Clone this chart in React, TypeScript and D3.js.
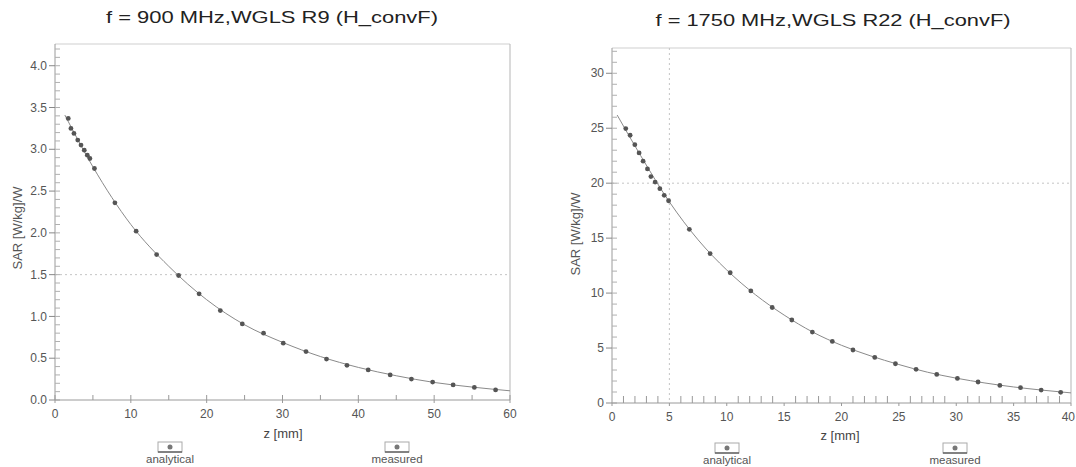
import React from "react";
import * as d3 from "d3";

// ---------- data ----------
const LEFT_TITLE = "f = 900 MHz,WGLS R9 (H_convF)";
const RIGHT_TITLE = "f = 1750 MHz,WGLS R22 (H_convF)";
const Y_LABEL = "SAR [W/kg]/W";
const X_LABEL = "z [mm]";
const LEGEND_LABELS = ["analytical", "measured"];

const LEFT_X_TICKS = [0, 10, 20, 30, 40, 50, 60];
const LEFT_Y_TICKS = [0.0, 0.5, 1.0, 1.5, 2.0, 2.5, 3.0, 3.5, 4.0];
const RIGHT_X_TICKS = [0, 5, 10, 15, 20, 25, 30, 35, 40];
const RIGHT_Y_TICKS = [0, 5, 10, 15, 20, 25, 30];

const LEFT_Z_MEAS = [1.75, 2.1, 2.5, 3.0, 3.43, 3.86, 4.26, 4.6, 5.2, 7.9, 10.7, 13.4, 16.3, 19.0, 21.8, 24.7, 27.5, 30.1, 33.1, 35.8, 38.5, 41.3, 44.2, 47.0, 49.8, 52.5, 55.3, 58.1];
const LEFT_SAR_MEAS = [3.37, 3.25, 3.19, 3.11, 3.05, 2.99, 2.93, 2.89, 2.77, 2.36, 2.02, 1.74, 1.49, 1.27, 1.07, 0.91, 0.8, 0.68, 0.58, 0.49, 0.415, 0.36, 0.3, 0.25, 0.215, 0.18, 0.15, 0.12];
const LEFT_Z_ANALYTIC = [1.3, 5, 10, 15, 20, 25, 30, 35, 40, 45, 50, 55, 60];
const LEFT_SAR_ANALYTIC = [3.41, 2.79, 2.1, 1.6, 1.2, 0.9, 0.69, 0.52, 0.39, 0.29, 0.21, 0.155, 0.11];

const RIGHT_Z_MEAS = [1.2, 1.58, 1.99, 2.36, 2.71, 3.09, 3.39, 3.76, 4.17, 4.55, 4.93, 6.74, 8.55, 10.3, 12.1, 13.96, 15.67, 17.46, 19.2, 21.0, 22.9, 24.7, 26.5, 28.3, 30.1, 31.9, 33.8, 35.6, 37.4, 39.1];
const RIGHT_SAR_MEAS = [24.97, 24.36, 23.5, 22.75, 22.0, 21.3, 20.6, 20.1, 19.5, 18.9, 18.4, 15.8, 13.6, 11.85, 10.2, 8.69, 7.55, 6.45, 5.6, 4.82, 4.15, 3.57, 3.06, 2.6, 2.24, 1.91, 1.6, 1.39, 1.18, 0.97];
const RIGHT_Z_ANALYTIC = [0.45, 2.5, 5, 7.5, 10, 12.5, 15, 17.5, 20, 22.5, 25, 27.5, 30, 32.5, 35, 37.5, 40];
const RIGHT_SAR_ANALYTIC = [26.2, 22.5, 18.3, 14.85, 12.1, 9.85, 8.0, 6.45, 5.25, 4.3, 3.5, 2.8, 2.26, 1.82, 1.46, 1.17, 0.92];

const FONT = "Liberation Sans, Arial, sans-serif";
const W = 1076;
const H = 467;

type PanelProps = {
  title: string;
  titleX: number;
  titleY: number;
  titleLen: number;
  left: number;
  right: number;
  top: number;
  bottom: number;
  xMax: number;
  yMax: number;
  xTicks: number[];
  yTicks: number[];
  yFmt: (v: number) => string;
  xMinorStep: number;
  xMinorLen: number;
  xMinorSkipMajor: boolean;
  yMinorStep: number;
  zMeas: number[];
  sMeas: number[];
  zAn: number[];
  sAn: number[];
  gridX: number[];
  gridY: number[];
  yLabelX: number;
  yLabelY: number;
  xLabelX: number;
  xLabelY: number;
  legendX: number[];
  legendY: number;
};

function Panel(p: PanelProps) {
  const x = d3.scaleLinear().domain([0, p.xMax]).range([p.left, p.right]);
  const y = d3.scaleLinear().domain([0, p.yMax]).range([p.bottom, p.top]);
  const an = p.zAn.map((z, i) => [z, p.sAn[i]] as [number, number]);
  const line = d3
    .line<[number, number]>()
    .x((d) => x(d[0]))
    .y((d) => y(d[1]))
    .curve(d3.curveMonotoneX);

  const xMinor = d3.range(0, p.xMax + 1e-9, p.xMinorStep).filter((v) => !(p.xMinorSkipMajor && Math.abs(v % 5) < 1e-6));
  const yMinor = d3.range(0, p.yMax, p.yMinorStep);

  return (
    <g>
      <text x={p.titleX} y={p.titleY} textAnchor="middle" fontFamily={FONT} fontSize={17} fill="#222" textLength={p.titleLen} lengthAdjust="spacingAndGlyphs">
        {p.title}
      </text>
      {/* frame */}
      <line x1={p.left} x2={p.right} y1={p.top} y2={p.top} stroke="#cfcfcf" />
      <line x1={p.right} x2={p.right} y1={p.top} y2={p.bottom} stroke="#b5b5b5" />
      {/* dotted grid */}
      {p.gridY.map((v) => (
        <line key={"gy" + v} x1={p.left} x2={p.right} y1={y(v)} y2={y(v)} stroke="#c4c4c4" strokeDasharray="2,3" />
      ))}
      {p.gridX.map((v) => (
        <line key={"gx" + v} x1={x(v)} x2={x(v)} y1={p.top} y2={p.bottom} stroke="#c4c4c4" strokeDasharray="2,3" />
      ))}
      {/* y axis */}
      <line x1={p.left} x2={p.left} y1={p.top} y2={p.bottom} stroke="#9a9a9a" />
      {yMinor.map((v, i) => (
        <line key={"ym" + i} x1={p.left} x2={p.left + 5} y1={y(v)} y2={y(v)} stroke="#b0b0b0" />
      ))}
      {p.yTicks.map((v) => (
        <g key={"yt" + v}>
          <line x1={p.left - 6} x2={p.left} y1={y(v)} y2={y(v)} stroke="#888" />
          <text x={p.left - 8} y={y(v)} dy="0.35em" textAnchor="end" fontFamily={FONT} fontSize={12} fill="#555">
            {p.yFmt(v)}
          </text>
        </g>
      ))}
      {/* x axis */}
      <line x1={p.left} x2={p.right} y1={p.bottom} y2={p.bottom} stroke="#9a9a9a" />
      {xMinor.map((v, i) => (
        <line key={"xm" + i} x1={x(v)} x2={x(v)} y1={p.bottom} y2={p.bottom - p.xMinorLen} stroke="#999" />
      ))}
      {p.xTicks.map((v) => {
        const px = x(v);
        const nearEdge = px + 9 > W;
        return (
          <g key={"xt" + v}>
            <line x1={px} x2={px} y1={p.bottom} y2={p.bottom + 3} stroke="#999" />
            <text x={nearEdge ? W - 1 : px} y={p.bottom + 18} textAnchor={nearEdge ? "end" : "middle"} fontFamily={FONT} fontSize={12} fill="#555">
              {v}
            </text>
          </g>
        );
      })}
      <text x={p.xLabelX} y={p.xLabelY} textAnchor="middle" fontFamily={FONT} fontSize={13} fill="#444">
        {X_LABEL}
      </text>
      <text transform={`translate(${p.yLabelX},${p.yLabelY}) rotate(-90)`} textAnchor="middle" fontFamily={FONT} fontSize={13} fill="#555">
        {Y_LABEL}
      </text>
      {/* analytical curve */}
      <path d={line(an) || ""} fill="none" stroke="#8a8a8a" strokeWidth={1} />
      {/* measured points */}
      {p.zMeas.map((z, i) => (
        <circle key={"m" + i} cx={x(z)} cy={y(p.sMeas[i])} r={2.4} fill="#555" />
      ))}
      {/* legend */}
      {LEGEND_LABELS.map((lab, i) => (
        <g key={lab}>
          <rect x={p.legendX[i] - 12} y={p.legendY - 5} width={24} height={10} fill="#fff" stroke="#aaa" />
          <line x1={p.legendX[i] - 12} x2={p.legendX[i] + 12} y1={p.legendY + 5} y2={p.legendY + 5} stroke="#555" strokeWidth={1.3} />
          <circle cx={p.legendX[i]} cy={p.legendY} r={2.5} fill="#777" />
          <text x={p.legendX[i]} y={p.legendY + 16} textAnchor="middle" fontFamily={FONT} fontSize={11.5} fill="#555">
            {lab}
          </text>
        </g>
      ))}
    </g>
  );
}

export default function App() {
  return (
    <svg width={W} height={H} style={{ position: "absolute", left: 0, top: 0, background: "#fff" }}>
      <rect width={W} height={H} fill="#fff" />
      <Panel
        title={LEFT_TITLE}
        titleX={272}
        titleY={23}
        titleLen={332}
        left={55}
        right={510}
        top={44}
        bottom={400}
        xMax={60}
        yMax={4.26}
        xTicks={LEFT_X_TICKS}
        yTicks={LEFT_Y_TICKS}
        yFmt={(v) => v.toFixed(1)}
        xMinorStep={5}
        xMinorLen={5}
        xMinorSkipMajor={false}
        yMinorStep={0.1}
        zMeas={LEFT_Z_MEAS}
        sMeas={LEFT_SAR_MEAS}
        zAn={LEFT_Z_ANALYTIC}
        sAn={LEFT_SAR_ANALYTIC}
        gridX={[]}
        gridY={[1.5]}
        yLabelX={22}
        yLabelY={228}
        xLabelX={283}
        xLabelY={438}
        legendX={[170, 397]}
        legendY={447}
      />
      <Panel
        title={RIGHT_TITLE}
        titleX={833}
        titleY={26}
        titleLen={355}
        left={612}
        right={1071}
        top={48}
        bottom={403}
        xMax={40}
        yMax={32.3}
        xTicks={RIGHT_X_TICKS}
        yTicks={RIGHT_Y_TICKS}
        yFmt={(v) => String(v)}
        xMinorStep={1}
        xMinorLen={7}
        xMinorSkipMajor={true}
        yMinorStep={1}
        zMeas={RIGHT_Z_MEAS}
        sMeas={RIGHT_SAR_MEAS}
        zAn={RIGHT_Z_ANALYTIC}
        sAn={RIGHT_SAR_ANALYTIC}
        gridX={[5]}
        gridY={[20]}
        yLabelX={580}
        yLabelY={234}
        xLabelX={840}
        xLabelY={440}
        legendX={[727, 955]}
        legendY={448}
      />
    </svg>
  );
}
